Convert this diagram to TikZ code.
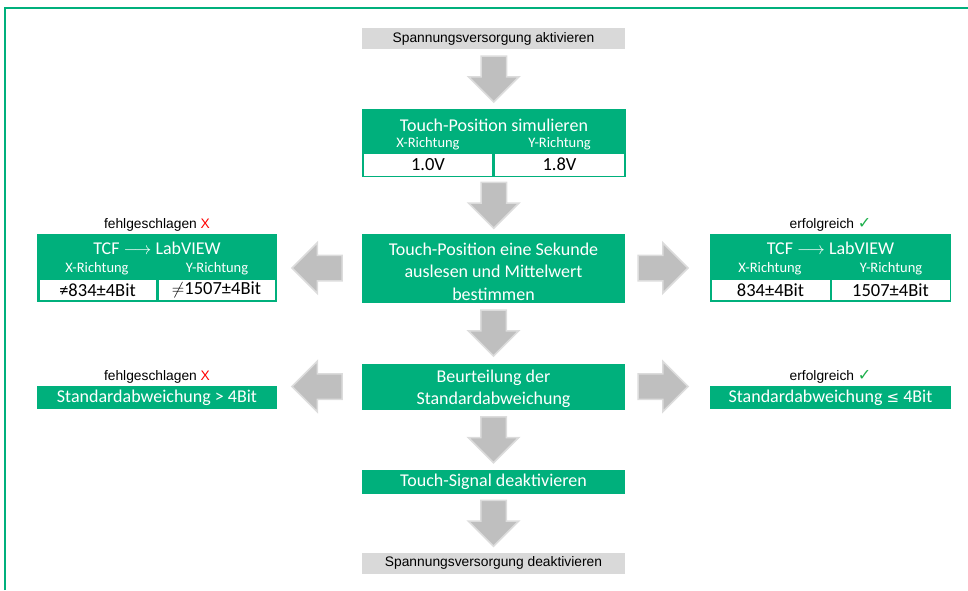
\documentclass[tikz,border=0pt]{standalone}
\usepackage{fontspec}
\setmainfont{Carlito}
\newfontfamily\arialfont{Liberation Sans}
\newfontfamily\symbolfont{DejaVu Sans}
\usetikzlibrary{shapes.arrows,calc}

\definecolor{flowgreen}{HTML}{00B07C}
\definecolor{boxgray}{HTML}{D9D9D9}
\definecolor{arrowfill}{HTML}{BFBFBF}
\definecolor{arrowedge}{HTML}{DCDCDC}
\definecolor{okgreen}{HTML}{1DAF4B}
\definecolor{failred}{HTML}{FF0000}

\newcommand{\okmark}{{\symbolfont\fontsize{16}{16}\selectfont\color{okgreen}✓}}

\begin{document}
\begin{tikzpicture}[x=1pt,y=-1pt,
  every node/.style={inner sep=0pt,outer sep=0pt},
  greenbox/.style={fill=flowgreen,text=white},
  graybox/.style={fill=boxgray,text=black,font=\arialfont\fontsize{13.8}{16}\selectfont,
    minimum width=263,minimum height=21},
  titletext/.style={text=white,font=\fontsize{18}{22.5}\selectfont,align=center},
  subtext/.style={text=white,font=\fontsize{14.5}{16}\selectfont},
  cell/.style={fill=white,text=black,font=\fontsize{18.5}{20}\selectfont},
  verdict/.style={text=black,font=\arialfont\fontsize{13.8}{16}\selectfont},
  blockarrow/.style={single arrow,draw=arrowedge,fill=arrowfill,line width=1.5pt,
    inner sep=12,single arrow head extend=12.5,minimum height=46,anchor=tail},
  downarrow/.style={blockarrow,shape border rotate=270},
  leftarrow/.style={blockarrow,shape border rotate=180,minimum height=50},
  rightarrow/.style={blockarrow,shape border rotate=0,minimum height=50},
]
\useasboundingbox (0,0) rectangle (968,590);

% frame
\draw[flowgreen,line width=2pt] (5,590) -- (5,7.5) -- (968,7.5);

% start / end
\node[graybox] (pwron) at (493.5,38.5) {Spannungsversorgung aktivieren};
\node[graybox] (pwroff) at (493.5,563) {Spannungsversorgung deaktivieren};

% simulate touch position
\node[greenbox,minimum width=264,minimum height=68] (sim) at (494,143) {};
\node[titletext] (simT) at (494,125) {Touch-Position simulieren};
\node[subtext] (simXh) at (428,143.5) {X-Richtung};
\node[subtext] (simYh) at (559.5,143.5) {Y-Richtung};
\node[cell,minimum width=128,minimum height=22] (simX) at (428,164.5) {1.0V};
\node[cell,minimum width=129,minimum height=22] (simY) at (559.5,164.5) {1.8V};

% read position
\node[greenbox,minimum width=263,minimum height=69] (read) at (493.5,268) {};
\node[titletext] (readT) at ($(read.center)+(0,3.5)$)
  {Touch-Position eine Sekunde\\auslesen und Mittelwert\\bestimmen};

% failed transfer
\node[greenbox,minimum width=240,minimum height=68] (fail1) at (157,268) {};
\node[titletext] (fail1T) at (157,248) {TCF $\longrightarrow$ LabVIEW};
\node[subtext] (fail1Xh) at (97,269) {X-Richtung};
\node[subtext] (fail1Yh) at (217,269) {Y-Richtung};
\node[cell,minimum width=116,minimum height=20] (fail1X) at (97.5,290) {≠834±4Bit};
\node[cell,minimum width=116,minimum height=20] (fail1Y) at (216.5,290) {$\neq$1507±4Bit};
\node[verdict] (fail1L) at (157,225) {fehlgeschlagen {\color{failred}X}};

% successful transfer
\node[greenbox,minimum width=241,minimum height=68] (ok1) at (830.5,268) {};
\node[titletext] (ok1T) at (830.5,248) {TCF $\longrightarrow$ LabVIEW};
\node[subtext] (ok1Xh) at (770,269) {X-Richtung};
\node[subtext] (ok1Yh) at (891,269) {Y-Richtung};
\node[cell,minimum width=118,minimum height=20] (ok1X) at (770.5,290) {834±4Bit};
\node[cell,minimum width=118,minimum height=20] (ok1Y) at (890.5,290) {1507±4Bit};
\node[verdict] (ok1L) at (830.5,225) {erfolgreich \okmark};

% standard deviation
\node[greenbox,minimum width=263,minimum height=46] (judge) at (493.5,386.5) {};
\node[titletext] (judgeT) at ($(judge.center)+(0,2.5)$)
  {Beurteilung der\\Standardabweichung};
\node[greenbox,titletext,minimum width=240,minimum height=23] (fail2) at (157,397.5)
  {Standardabweichung > 4Bit};
\node[verdict] (fail2L) at (157,377) {fehlgeschlagen {\color{failred}X}};
\node[greenbox,titletext,minimum width=241,minimum height=23] (ok2) at (830.5,397.5)
  {Standardabweichung {\symbolfont\fontsize{15}{16}\selectfont ≤} 4Bit};
\node[verdict] (ok2L) at (830.5,377) {erfolgreich \okmark};

% switch off touch signal
\node[greenbox,titletext,minimum width=263,minimum height=24] (off) at (493.5,482)
  {Touch-Signal deaktivieren};

% block arrows, each placed by its tail
\node[downarrow] (a1) at ($(pwron.south)!0.5!(sim.north)+(0,-23)$) {};
\node[downarrow] (a2) at ($(sim.south)!0.5!(read.north)+(0,-23)$) {};
\node[downarrow] (a3) at ($(read.south)!0.5!(judge.north)+(0,-23)$) {};
\node[downarrow] (a4) at ($(judge.south)!0.5!(off.north)+(0,-23)$) {};
\node[downarrow] (a5) at ($(off.south)!0.5!(pwroff.north)+(0,-23)$) {};
\node[leftarrow] (a6) at ($(read.west)+(-20,0)$) {};
\node[rightarrow] (a7) at ($(read.east)+(13,0)$) {};
\node[leftarrow] (a8) at ($(judge.west)+(-20,0)$) {};
\node[rightarrow] (a9) at ($(judge.east)+(13,0)$) {};
\end{tikzpicture}
\end{document}
